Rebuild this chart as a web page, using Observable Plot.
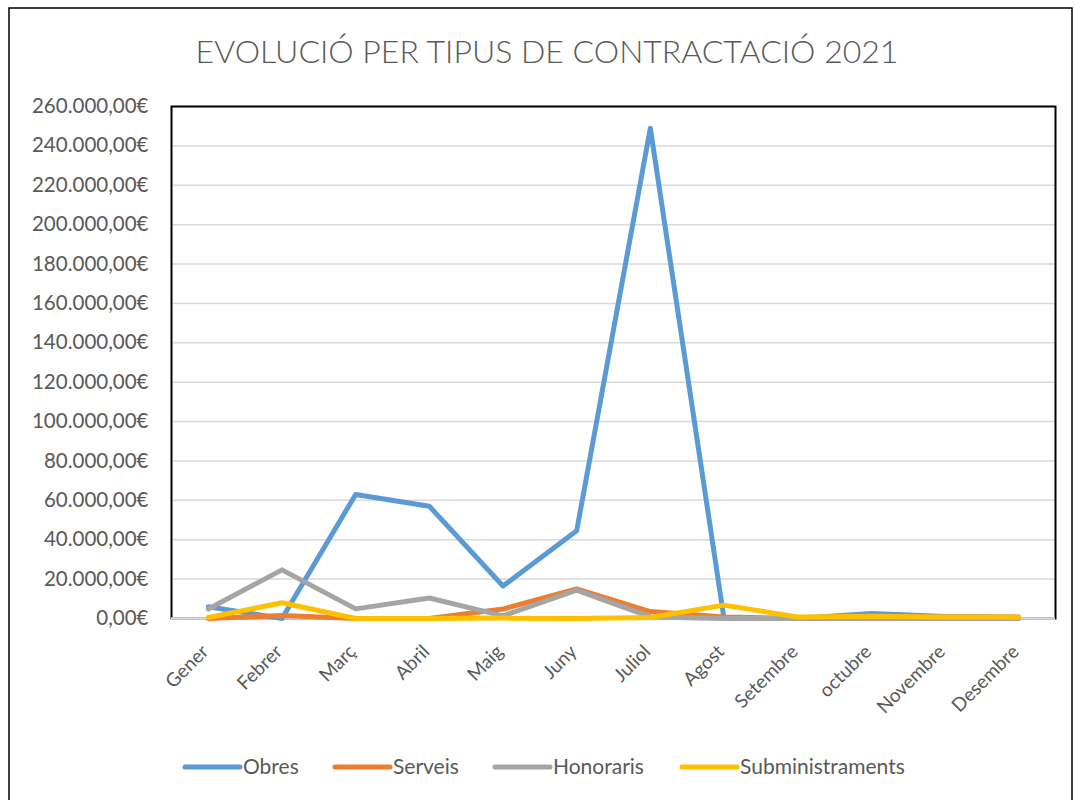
<!DOCTYPE html>
<html><head><meta charset="utf-8">
<script src="https://cdn.jsdelivr.net/npm/d3@7"></script>
<script src="https://cdn.jsdelivr.net/npm/@observablehq/plot@0.6"></script>
<style>
body{margin:0;background:#fff;}
#chart{position:relative;width:1075px;height:800px;}
</style>
</head><body><div id="chart"></div>
<script>
const titleText = "EVOLUCIÓ PER TIPUS DE CONTRACTACIÓ 2021";
const months = ["Gener","Febrer","Març","Abril","Maig","Juny","Juliol","Agost","Setembre","octubre","Novembre","Desembre"];
const seriesNames = ["Obres","Serveis","Honoraris","Subministraments"];
const seriesColors = ["#5B9BD5","#ED7D31","#A5A5A5","#FFC000"];
const obres = [6000, 0, 63000, 57000, 16500, 44500, 249000, 0, 0, 2500, 1000, 500];
const serveis = [0, 1500, 0, 0, 4800, 15000, 3500, 800, 0, 500, 800, 800];
const honoraris = [4800, 24700, 4900, 10400, 1300, 14400, 800, 0, 0, 0, 0, 0];
const subministraments = [500, 8000, 0, 0, 200, 0, 500, 6800, 800, 1200, 700, 600];
const yTicks = [0,20000,40000,60000,80000,100000,120000,140000,160000,180000,200000,220000,240000,260000];

const seriesValues = [obres, serveis, honoraris, subministraments];
const data = [];
seriesNames.forEach((s, i) => months.forEach((m, j) => data.push({series: s, month: m, value: seriesValues[i][j]})));

const loc = d3.formatLocale({decimal: ",", thousands: ".", grouping: [3], currency: ["", "€"]});
const fmt = v => loc.format(",.2f")(v) + "€";

const FONT = "Lato, 'Open Sans', sans-serif";
const plot = Plot.plot({
  width: 1075,
  height: 800,
  marginTop: 106,
  marginLeft: 171,
  marginRight: 20,
  marginBottom: 182,
  style: {fontFamily: FONT, color: "#595959", background: "transparent"},
  x: {type: "point", domain: months, padding: 0.5, round: false, label: null},
  y: {domain: [0, 260000], label: null},
  color: {domain: seriesNames, range: seriesColors},
  marks: [
    Plot.gridY(yTicks, {stroke: "#d9d9d9", strokeOpacity: 1, strokeWidth: 1.5}),
    Plot.frame({stroke: "#000", strokeWidth: 2}),
    Plot.ruleY([0], {stroke: "#d9d9d9", strokeWidth: 2.5}),
    Plot.axisY(yTicks, {tickFormat: fmt, tickSize: 0, tickPadding: 23, fontSize: 20.5, label: null}),
    Plot.axisX({tickRotate: -45, tickSize: 0, tickPadding: 30, dx: -3, fontSize: 19, label: null}),
    Plot.line(data, {x: "month", y: "value", z: "series", stroke: "series", strokeWidth: 5, strokeLinecap: "round", strokeLinejoin: "round"})
  ]
});

const svg = d3.select(plot);
svg.insert("rect", ":first-child")
  .attr("x", 9).attr("y", 8).attr("width", 1063).attr("height", 800)
  .attr("fill", "#fff").attr("stroke", "#000").attr("stroke-width", 1.5);

svg.append("text")
  .attr("x", 547).attr("y", 63)
  .attr("text-anchor", "middle")
  .attr("font-family", FONT)
  .attr("font-weight", 300)
  .attr("font-size", 32)
  .attr("fill", "#595959")
  .text(titleText);

const legendX = [185, 335, 495, 682];
const leg = svg.append("g");
seriesNames.forEach((s, i) => {
  leg.append("line")
    .attr("x1", legendX[i]).attr("x2", legendX[i] + 55)
    .attr("y1", 767).attr("y2", 767)
    .attr("stroke", seriesColors[i]).attr("stroke-width", 5).attr("stroke-linecap", "round");
  leg.append("text")
    .attr("x", legendX[i] + 58).attr("y", 767).attr("dy", "0.35em")
    .attr("text-anchor", "start")
    .attr("font-family", FONT).attr("font-size", 21).attr("fill", "#595959")
    .text(s);
});

document.getElementById("chart").appendChild(plot);
</script>
</body></html>
